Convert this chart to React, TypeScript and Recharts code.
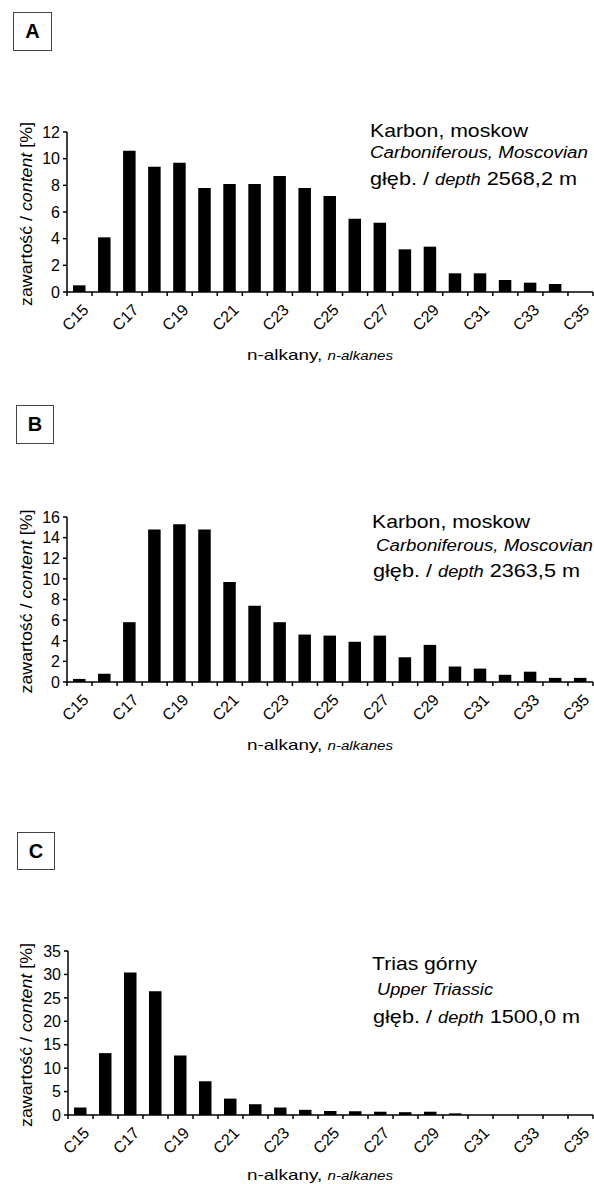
import { Bar, BarChart, XAxis, YAxis } from 'recharts'

const FONT = '"Liberation Sans", Arial, Helvetica, sans-serif'

const CATEGORIES = ['C15', 'C16', 'C17', 'C18', 'C19', 'C20', 'C21', 'C22', 'C23', 'C24', 'C25', 'C26', 'C27', 'C28', 'C29', 'C30', 'C31', 'C32', 'C33', 'C34', 'C35']

// zawartość [%]
const VALUES_A = [0.5, 4.1, 10.6, 9.4, 9.7, 7.8, 8.1, 8.1, 8.7, 7.8, 7.2, 5.5, 5.2, 3.2, 3.4, 1.4, 1.4, 0.9, 0.7, 0.6, 0]
const VALUES_B = [0.3, 0.8, 5.8, 14.8, 15.3, 14.8, 9.7, 7.4, 5.8, 4.6, 4.5, 3.9, 4.5, 2.4, 3.6, 1.5, 1.3, 0.7, 1.0, 0.4, 0.4]
const VALUES_C = [1.6, 13.2, 30.4, 26.4, 12.7, 7.2, 3.5, 2.3, 1.6, 1.1, 0.85, 0.8, 0.7, 0.6, 0.7, 0.35, 0, 0, 0, 0, 0]

const TICKS_A = [0, 2, 4, 6, 8, 10, 12]
const TICKS_B = [0, 2, 4, 6, 8, 10, 12, 14, 16]
const TICKS_C = [0, 5, 10, 15, 20, 25, 30, 35]

const NOTE_A = ['Karbon, moskow', 'Carboniferous, Moscovian', '2568,2 m']
const NOTE_B = ['Karbon, moskow', 'Carboniferous, Moscovian', '2363,5 m']
const NOTE_C = ['Trias górny', 'Upper Triassic', '1500,0 m']

const CHART_W = 594
const TICK = 4

interface PanelCfg {
  letter: string
  values: number[]
  ticks: number[]
  note: string[]
  top: number
  marginTop: number
  plotH: number
  axisW: number
  xAxisH: number
  xLabelDy: number
  box: { x: number; y: number; w: number; h: number }
  noteX: number[]
  noteY: number[]
  noteLen: number[]
}

const PANELS: PanelCfg[] = [
  {
    letter: 'A', values: VALUES_A, ticks: TICKS_A, note: NOTE_A,
    top: 100, marginTop: 32, plotH: 160, axisW: 67, xAxisH: 80, xLabelDy: 68,
    box: { x: 13, y: 12, w: 39, h: 39 },
    noteX: [370, 370, 370], noteY: [137, 158, 185], noteLen: [158, 218, 207],
  },
  {
    letter: 'B', values: VALUES_B, ticks: TICKS_B, note: NOTE_B,
    top: 490, marginTop: 27, plotH: 165, axisW: 67, xAxisH: 80, xLabelDy: 68,
    box: { x: 16, y: 405, w: 38, h: 39 },
    noteX: [372, 376, 373], noteY: [528, 551, 577], noteLen: [158, 217, 207],
  },
  {
    letter: 'C', values: VALUES_C, ticks: TICKS_C, note: NOTE_C,
    top: 920, marginTop: 31, plotH: 164, axisW: 68, xAxisH: 72, xLabelDy: 65,
    box: { x: 17, y: 832, w: 38, h: 38 },
    noteX: [372, 377, 373], noteY: [970, 995, 1023], noteLen: [105, 116, 207],
  },
]

function Panel({ cfg }: { cfg: PanelCfg }) {
  const data = CATEGORIES.map((name, i) => ({ name, value: cfg.values[i] }))
  const plotW = CHART_W - 1 - cfg.axisW
  const band = plotW / CATEGORIES.length
  const axisY = cfg.marginTop + cfg.plotH
  const height = cfg.marginTop + cfg.plotH + cfg.xAxisH

  // tick marks sit on category boundaries, labels on every other category centre
  const xTick = (p: any) => {
    const { x, index, payload } = p
    const left = x - band / 2
    const lx = x + 2
    const ly = axisY + 11
    return (
      <g>
        <line x1={left} x2={left} y1={axisY} y2={axisY + TICK} stroke="#000" strokeWidth={1.5} />
        {index === CATEGORIES.length - 1 && (
          <line x1={x + band / 2} x2={x + band / 2} y1={axisY} y2={axisY + TICK} stroke="#000" strokeWidth={1.5} />
        )}
        {index % 2 === 0 && (
          <text
            x={lx}
            y={ly}
            dy="0.7em"
            textAnchor="end"
            transform={`rotate(-45 ${lx} ${ly})`}
            fontSize={16}
            fontFamily={FONT}
            fill="#000"
          >
            {payload.value}
          </text>
        )}
      </g>
    )
  }

  const yTick = (p: any) => {
    const { x, y, payload } = p
    return (
      <text x={x} y={y} dy="0.36em" textAnchor="end" fontSize={16} fontFamily={FONT} fill="#000">
        {payload.value}
      </text>
    )
  }

  const yLabel = (p: any) => {
    const vb = p.viewBox
    const cx = 26
    const cy = vb.y + vb.height / 2 + 2
    return (
      <text
        x={cx}
        y={cy}
        transform={`rotate(-90 ${cx} ${cy})`}
        textAnchor="middle"
        dominantBaseline="central"
        fontSize={17}
        fontFamily={FONT}
        fill="#000"
        textLength={184}
        lengthAdjust="spacingAndGlyphs"
      >
        zawartość / <tspan fontStyle="italic">content</tspan> [%]
      </text>
    )
  }

  const xLabel = (p: any) => {
    const vb = p.viewBox
    const cx = 320
    const cy = vb.y + cfg.xLabelDy
    return (
      <text x={cx} y={cy} textAnchor="middle" fontSize={15} fontFamily={FONT} fill="#000" textLength={146} lengthAdjust="spacingAndGlyphs">
        n-alkany, <tspan fontStyle="italic" fontSize={12}>n-alkanes</tspan>
      </text>
    )
  }

  return (
    <div style={{ position: 'absolute', left: 0, top: cfg.top }}>
      <BarChart width={CHART_W} height={height} data={data} margin={{ top: cfg.marginTop, right: 1, bottom: 0, left: 0 }}>
        <XAxis
          dataKey="name"
          interval={0}
          tickLine={false}
          tickSize={TICK}
          tickMargin={4}
          height={cfg.xAxisH}
          axisLine={{ stroke: '#000', strokeWidth: 1.5 }}
          tick={xTick}
          label={xLabel}
        />
        <YAxis
          type="number"
          domain={[0, cfg.ticks[cfg.ticks.length - 1]]}
          ticks={cfg.ticks}
          interval={0}
          width={cfg.axisW}
          tickSize={TICK}
          tickMargin={3}
          tickLine={{ stroke: '#000', strokeWidth: 1.5 }}
          axisLine={{ stroke: '#000', strokeWidth: 1.5 }}
          tick={yTick}
          label={yLabel}
        />
        <Bar dataKey="value" fill="#000" barSize={12.5} isAnimationActive={false} />
      </BarChart>
    </div>
  )
}

function Notes() {
  return (
    <svg width={594} height={1184} style={{ position: 'absolute', left: 0, top: 0, pointerEvents: 'none' }}>
      {PANELS.map((cfg) => (
        <g key={cfg.letter} fontFamily={FONT} fill="#000">
          <text x={cfg.noteX[0]} y={cfg.noteY[0]} fontSize={19} textLength={cfg.noteLen[0]} lengthAdjust="spacingAndGlyphs">
            {cfg.note[0]}
          </text>
          <text x={cfg.noteX[1]} y={cfg.noteY[1]} fontSize={16} fontStyle="italic" textLength={cfg.noteLen[1]} lengthAdjust="spacingAndGlyphs">
            {cfg.note[1]}
          </text>
          <text x={cfg.noteX[2]} y={cfg.noteY[2]} fontSize={19} textLength={cfg.noteLen[2]} lengthAdjust="spacingAndGlyphs">
            głęb. / <tspan fontStyle="italic" fontSize={16}>depth</tspan> {cfg.note[2]}
          </text>
        </g>
      ))}
    </svg>
  )
}

export default function App() {
  return (
    <div style={{ position: 'absolute', left: 0, top: 0, width: 594, height: 1184, background: '#fff', fontFamily: FONT }}>
      {PANELS.map((cfg) => (
        <div
          key={'box' + cfg.letter}
          style={{
            position: 'absolute',
            left: cfg.box.x,
            top: cfg.box.y,
            width: cfg.box.w,
            height: cfg.box.h,
            boxSizing: 'border-box',
            border: '1.5px solid #444',
            display: 'flex',
            alignItems: 'center',
            justifyContent: 'center',
            fontWeight: 'bold',
            fontSize: 20,
          }}
        >
          {cfg.letter}
        </div>
      ))}
      {PANELS.map((cfg) => (
        <Panel key={cfg.letter} cfg={cfg} />
      ))}
      <Notes />
    </div>
  )
}
